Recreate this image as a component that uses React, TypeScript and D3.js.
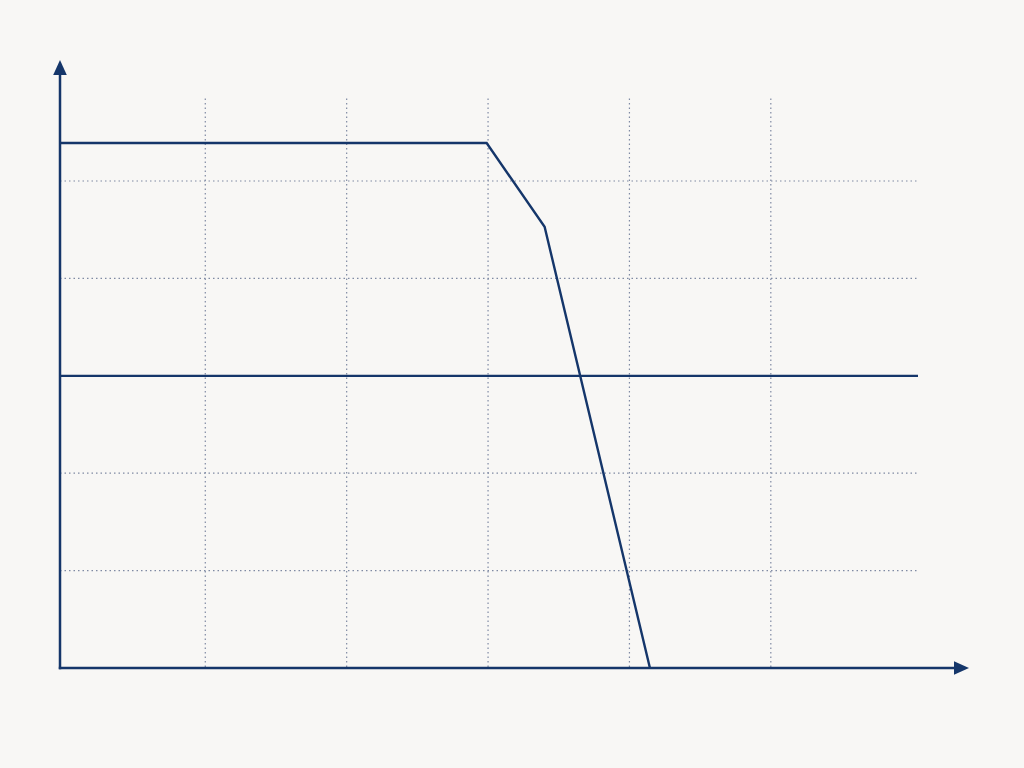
import React from "react";
import * as d3 from "d3";

// Data (in chart units)
const curveX = [-0.03, 2.99, 3.4, 4.145];
const curveY = [5.39, 5.39, 4.53, 0];
const levelY = 3;
const xGridTicks = [1, 2, 3, 4, 5];
const yGridTicks = [1, 2, 4, 5];

const W = 1024;
const H = 768;
const NAVY = "#15366a";
const BG = "#f8f7f5";
const GRID = "#7f8aa3";

export default function App() {
  const x = d3.scaleLinear().domain([0, 6]).range([63.9, 912.2]);
  const y = d3.scaleLinear().domain([0, 5]).range([668, 181]);
  const x0 = 60;
  const y0 = 668;
  const gridRight = 918;
  const gridTop = 98.5;

  const pts: [number, number][] = curveX.map((v, i) => [x(v), y(curveY[i])]);
  const line = d3.line()(pts) || "";

  return (
    <svg
      width={W}
      height={H}
      style={{ position: "absolute", left: 0, top: 0, background: BG }}
    >
      <rect x={0} y={0} width={W} height={H} fill={BG} />
      {xGridTicks.map((t) => (
        <line
          key={"gx" + t}
          x1={x(t)}
          x2={x(t)}
          y1={gridTop}
          y2={y0}
          stroke={GRID}
          strokeWidth={1.2}
          strokeDasharray="1.5 3"
        />
      ))}
      {yGridTicks.map((t) => (
        <line
          key={"gy" + t}
          x1={x0}
          x2={gridRight}
          y1={y(t)}
          y2={y(t)}
          stroke={GRID}
          strokeWidth={1.2}
          strokeDasharray="1.5 3"
        />
      ))}
      <line
        x1={x0}
        x2={gridRight}
        y1={y(levelY)}
        y2={y(levelY)}
        stroke={NAVY}
        strokeWidth={2.2}
      />
      <path
        d={line}
        fill="none"
        stroke={NAVY}
        strokeWidth={2.4}
        strokeLinejoin="miter"
      />
      {/* axes */}
      <line x1={x0} x2={x0} y1={y0 + 1.2} y2={72} stroke={NAVY} strokeWidth={2.5} />
      <line x1={x0 - 1.2} x2={957} y1={y0} y2={y0} stroke={NAVY} strokeWidth={2.5} />
      <path d={`M${x0},60 L${x0 + 6.8},75 L${x0 - 6.8},75 Z`} fill={NAVY} />
      <path d={`M969,${y0} L954,${y0 - 6.8} L954,${y0 + 6.8} Z`} fill={NAVY} />
    </svg>
  );
}
